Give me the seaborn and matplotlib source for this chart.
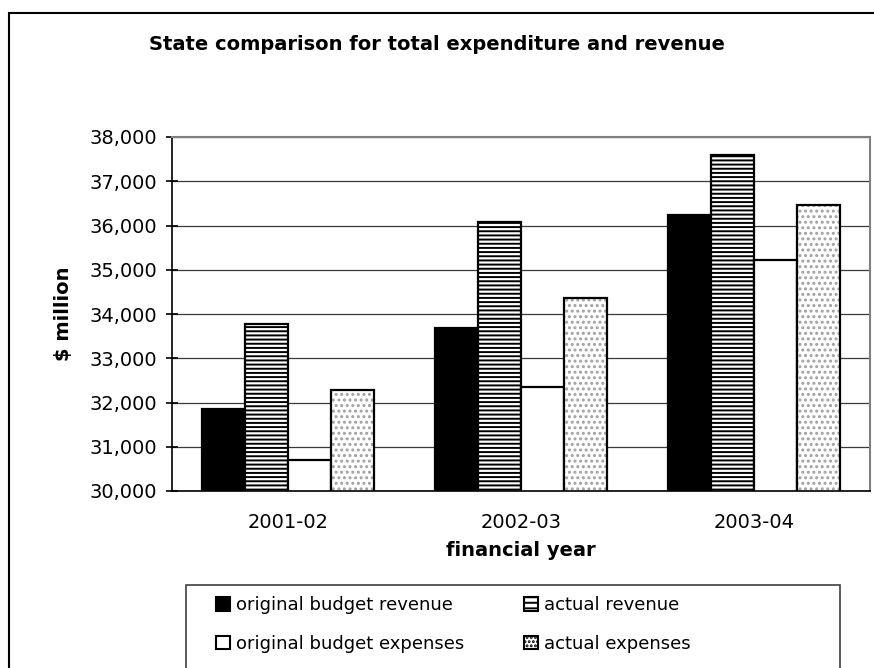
import matplotlib
matplotlib.use("Agg")
import matplotlib.pyplot as plt
import matplotlib.patches as mpatches
import seaborn as sns
import pandas as pd
from matplotlib.ticker import FuncFormatter, FixedLocator

# ---- data ----
years = ["2001-02", "2002-03", "2003-04"]
series_names = ["original budget revenue", "actual revenue",
                "original budget expenses", "actual expenses"]
orig_budget_revenue = [31850, 33680, 36240]
actual_revenue = [33780, 36080, 37600]
orig_budget_expenses = [30700, 32340, 35210]
actual_expenses = [32290, 34370, 36470]
y_ticks = [30000, 31000, 32000, 33000, 34000, 35000, 36000, 37000, 38000]

title = "State comparison for total expenditure and revenue"
xlabel = "financial year"
ylabel = "$ million"

rows = []
for name, vals in zip(series_names, [orig_budget_revenue, actual_revenue,
                                     orig_budget_expenses, actual_expenses]):
    for yr, v in zip(years, vals):
        rows.append({"year": yr, "series": name, "value": v})
df = pd.DataFrame(rows)

# ---- style ----
sns.set_theme(style="white")
plt.rcParams["font.family"] = ["DejaVu Sans"]
plt.rcParams["hatch.linewidth"] = 1.4
plt.rcParams["text.color"] = "black"
plt.rcParams["axes.labelcolor"] = "black"

W, H = 874, 668
fig = plt.figure(figsize=(W / 100, H / 100), dpi=100)
ax = fig.add_axes([172 / W, 1 - 491 / H, (870 - 172) / W, (491 - 137) / H])

facecolors = ["black", "white", "white", "white"]
hatches = [None, "----", None, "..."]

sns.barplot(data=df, x="year", y="value", hue="series", order=years,
            hue_order=series_names, palette=facecolors, saturation=1,
            width=0.74, edgecolor="black", linewidth=1.6, legend=False, ax=ax)

dot_gray = "#a0a0a0"
for cont, h in zip(ax.containers, hatches):
    for bar in cont:
        if h == "----":
            bar.set_hatch(h)
        elif h == "...":
            bar.set_hatch(h)
            bar.set_edgecolor(dot_gray)
            bar.set_linewidth(0)
            outline = mpatches.Rectangle(bar.get_xy(), bar.get_width(),
                                         bar.get_height(), fill=False,
                                         edgecolor="black", linewidth=1.6,
                                         zorder=bar.get_zorder() + 0.1)
            ax.add_patch(outline)

ax.set_ylim(30000, 38000)
ax.set_xlim(-0.5, 2.5)
ax.yaxis.set_major_locator(FixedLocator(y_ticks))
ax.yaxis.set_major_formatter(FuncFormatter(lambda v, p: f"{int(v):,}"))

ax.set_axisbelow(True)
ax.grid(axis="y", color="#3a3a3a", linewidth=0.9)
ax.grid(axis="x", visible=False)

for s in ["left", "bottom"]:
    ax.spines[s].set_color("black")
    ax.spines[s].set_linewidth(1.2)
for s in ["top", "right"]:
    ax.spines[s].set_color("#808080")
    ax.spines[s].set_linewidth(1.5)

ax.set_xticks([0, 1, 2], labels=years)
ax.set_xticks([-0.5, 0.5, 1.5, 2.5], minor=True)
ax.tick_params(axis="x", which="major", length=0, labelsize=14, pad=16,
               colors="black")
ax.tick_params(axis="x", which="minor", length=7, width=1.2, direction="out",
               color="black")
ax.tick_params(axis="y", length=9, width=1.2, direction="inout", labelsize=14,
               pad=6, colors="black", left=True)

ax.set_xlabel(xlabel, fontsize=14, fontweight="bold", labelpad=6, color="black")
ax.set_ylabel(ylabel, fontsize=14, fontweight="bold", labelpad=12, color="black")

fig.text(437 / W, 1 - 44 / H, title, ha="center", va="center",
         fontsize=14, fontweight="bold", color="black")

# outer chart border
fig.patches.append(mpatches.Rectangle((8.5 / W, -0.2), 1.2, 1.2 - 12.5 / H,
                                      transform=fig.transFigure, fill=False,
                                      edgecolor="black", linewidth=1.5))
# legend box
fig.patches.append(mpatches.Rectangle((186 / W, -0.05), (840 - 186) / W,
                                      0.05 + 1 - 585 / H,
                                      transform=fig.transFigure, fill=False,
                                      edgecolor="#404040", linewidth=1.2))

# legend (row-major order: col1 = originals, col2 = actuals)
handles = []
for fc, h in zip(facecolors, hatches):
    if h == "...":
        handles.append(mpatches.Patch(facecolor=fc, edgecolor="black",
                                      hatch="....", linewidth=1.5))
    else:
        handles.append(mpatches.Patch(facecolor=fc, edgecolor="black",
                                      hatch=("---" if h else None), linewidth=1.5))
order = [0, 2, 1, 3]
leg = fig.legend([handles[i] for i in order], [series_names[i] for i in order],
                 ncol=2, loc="upper left",
                 bbox_to_anchor=(216 / W, 1 - 596 / H), fontsize=13,
                 frameon=False, borderpad=0, borderaxespad=0,
                 handlelength=0.8, handleheight=0.8, handletextpad=0.3,
                 columnspacing=3.3, labelspacing=1.15)

fig.savefig("out.png", dpi=100)
